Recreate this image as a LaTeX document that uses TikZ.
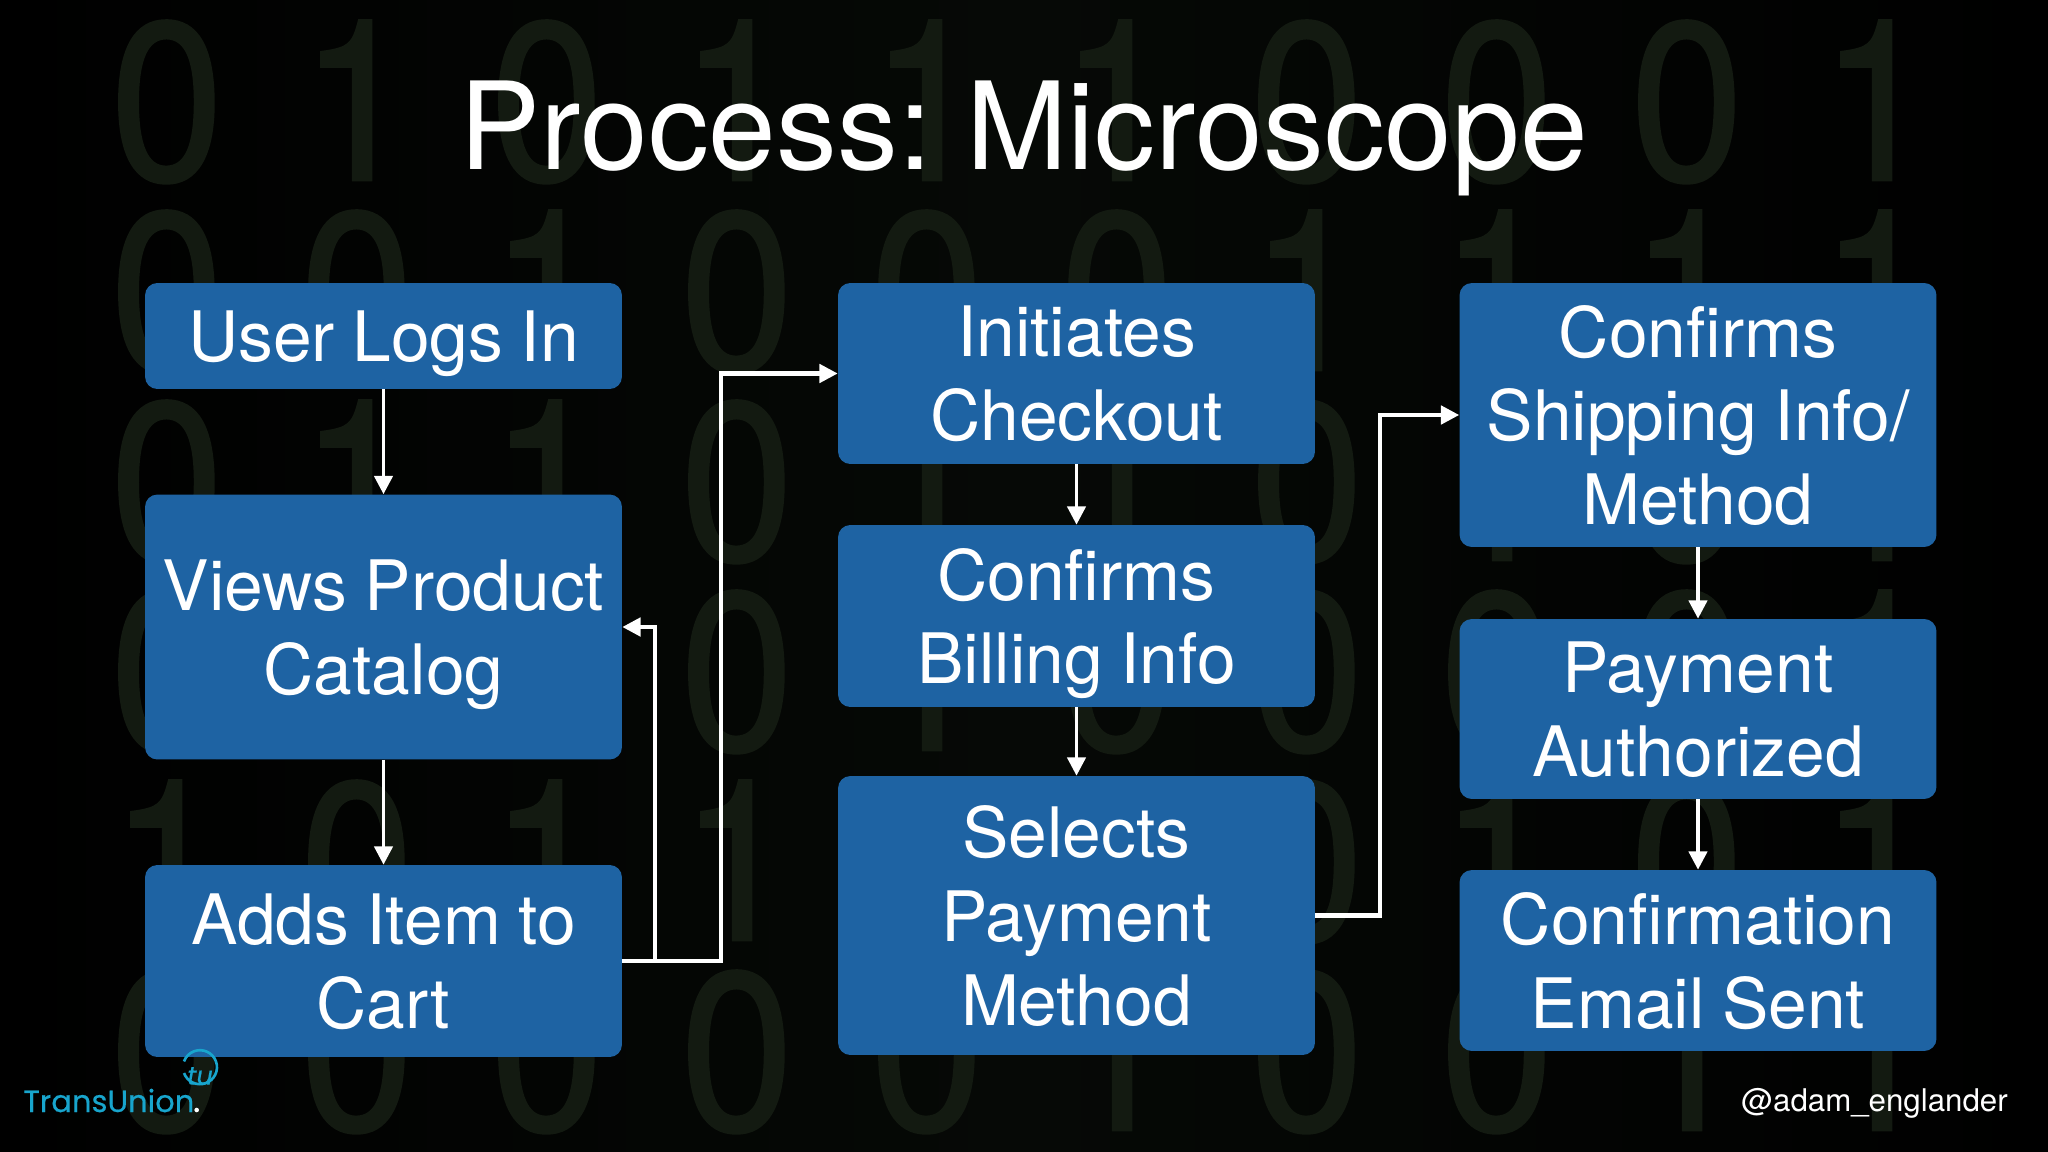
\documentclass[tikz,border=0pt]{standalone}
\usepackage{fontspec}
\setmainfont{TeX Gyre Heros}[WordSpace=0.9]
\newfontfamily\titlefont{TeX Gyre Heros}[WordSpace=0.7]
\newfontfamily\logofont{Poppins}[FakeBold=0.4]
\newfontfamily\digitfont{TeX Gyre Heros}[FakeStretch=0.9, FakeBold=1.2]
\usetikzlibrary{
    arrows.meta
}
\definecolor{slideBlue}{RGB}{30, 99, 163}
\definecolor{slideBack}{RGB}{6, 9, 6}
\definecolor{digitGreen}{RGB}{19, 26, 17}
\definecolor{logoTeal}{RGB}{24, 165, 205}

\tikzset{
    procbox/.style={
        fill=slideBlue, rounded corners=7pt, text=white, align=center,
        minimum width=9.54cm, inner sep=0pt, text depth=-2pt,
        font=\fontsize{39.6}{47.8}\selectfont
    },
    digit/.style={
        anchor=base, text=digitGreen, inner sep=0pt,
        font=\digitfont\fontsize{128}{128}\selectfont
    },
    flow/.style={
        draw=white, line width=2pt, -{Triangle[length=10.4pt, width=10.4pt]}
    },
    elbow/.style={flow, line width=2.3pt}
}

\begin{document}
\begin{tikzpicture}[x=0.02cm, y=-0.02cm]
        \useasboundingbox (0,0) rectangle (2048,1152);
        % Background
        \fill[left color=black, right color=black, middle color=slideBack] (0,0) rectangle (2048,1152);
        \foreach \rowy/\bits in {
            180/{0,1,0,1,1,1,0,0,0,1},
            370/{0,0,1,0,0,0,1,1,1,1},
            560/{0,1,1,0,1,1,0,1,0,1},
            750/{0,0,0,0,1,0,0,0,0,1},
            940/{1,0,1,1,0,1,0,1,0,1},
            1130/{0,0,0,0,0,1,0,0,1,1}}{
            \foreach \bit [count=\col from 0] in \bits {
                \node[digit] (d\rowy-\col) at (167+190*\col, \rowy) {\bit};
            }
        }

        % Title
        \node[anchor=base, text=white, inner sep=0pt, font=\titlefont\fontsize{69.2}{80}\selectfont]
            (title) at (1023.5,170) {Process: Microscope};

        % Left column
        \node[procbox, minimum height=2.12cm] (login) at (383.5,336) {User Logs In};
        \node[procbox, minimum height=5.30cm] (catalog) at (383.5,627) {Views Product\\Catalog};
        \node[procbox, minimum height=3.84cm] (cart) at (383.5,961) {Adds Item to\\Cart};

        % Middle column
        \node[procbox, minimum height=3.62cm] (checkout) at (1076.5,373.5) {Initiates\\Checkout};
        \node[procbox, minimum height=3.64cm] (billing) at (1076.5,616) {Confirms\\Billing Info};
        \node[procbox, minimum height=5.58cm] (method) at (1076.5,915.5) {Selects\\Payment\\Method};

        % Right column
        \node[procbox, minimum height=5.28cm] (shipping) at (1698,415) {Confirms\\Shipping Info/\\Method};
        \node[procbox, minimum height=3.60cm] (authorized) at (1698,709) {Payment\\Authorized};
        \node[procbox, minimum height=3.62cm] (email) at (1698,960.5) {Confirmation\\Email Sent};

        % Connectors
        \draw[flow] (login) -- (catalog);
        \draw[flow] (catalog) -- (cart);
        \draw[flow] (checkout) -- (billing);
        \draw[flow] (billing) -- (method);
        \draw[flow] (shipping) -- (authorized);
        \draw[flow] (authorized) -- (email);
        \draw[elbow] (cart.east) -- ++(33,0) |- (catalog.east);
        \draw[elbow] (cart.east) -- ++(99,0) |- (checkout.west);
        \draw[elbow] (method.east) -- ++(65,0) |- (shipping.west);

        % Logo and handle
        \node[anchor=base west, inner sep=0pt, text=logoTeal, font=\logofont\fontsize{17.4}{20}\selectfont]
            (logo) at (23,1112) {TransUnion};
        \fill[white] (logo.base east) ++(2,-2) circle (2.3);
        \draw[logoTeal, line width=1.5pt] (184,1073) arc[start angle=160, end angle=-160, radius=17];
        \node[text=logoTeal, inner sep=0pt, font=\logofont\itshape\fontsize{14.5}{16}\selectfont]
            (tu) at (200,1076) {tu};
        \node[anchor=base west, inner sep=0pt, text=white, font=\fontsize{17.8}{20}\selectfont]
            (handle) at (1741,1111) {@adam\_englander};
    \end{tikzpicture}
\end{document}
